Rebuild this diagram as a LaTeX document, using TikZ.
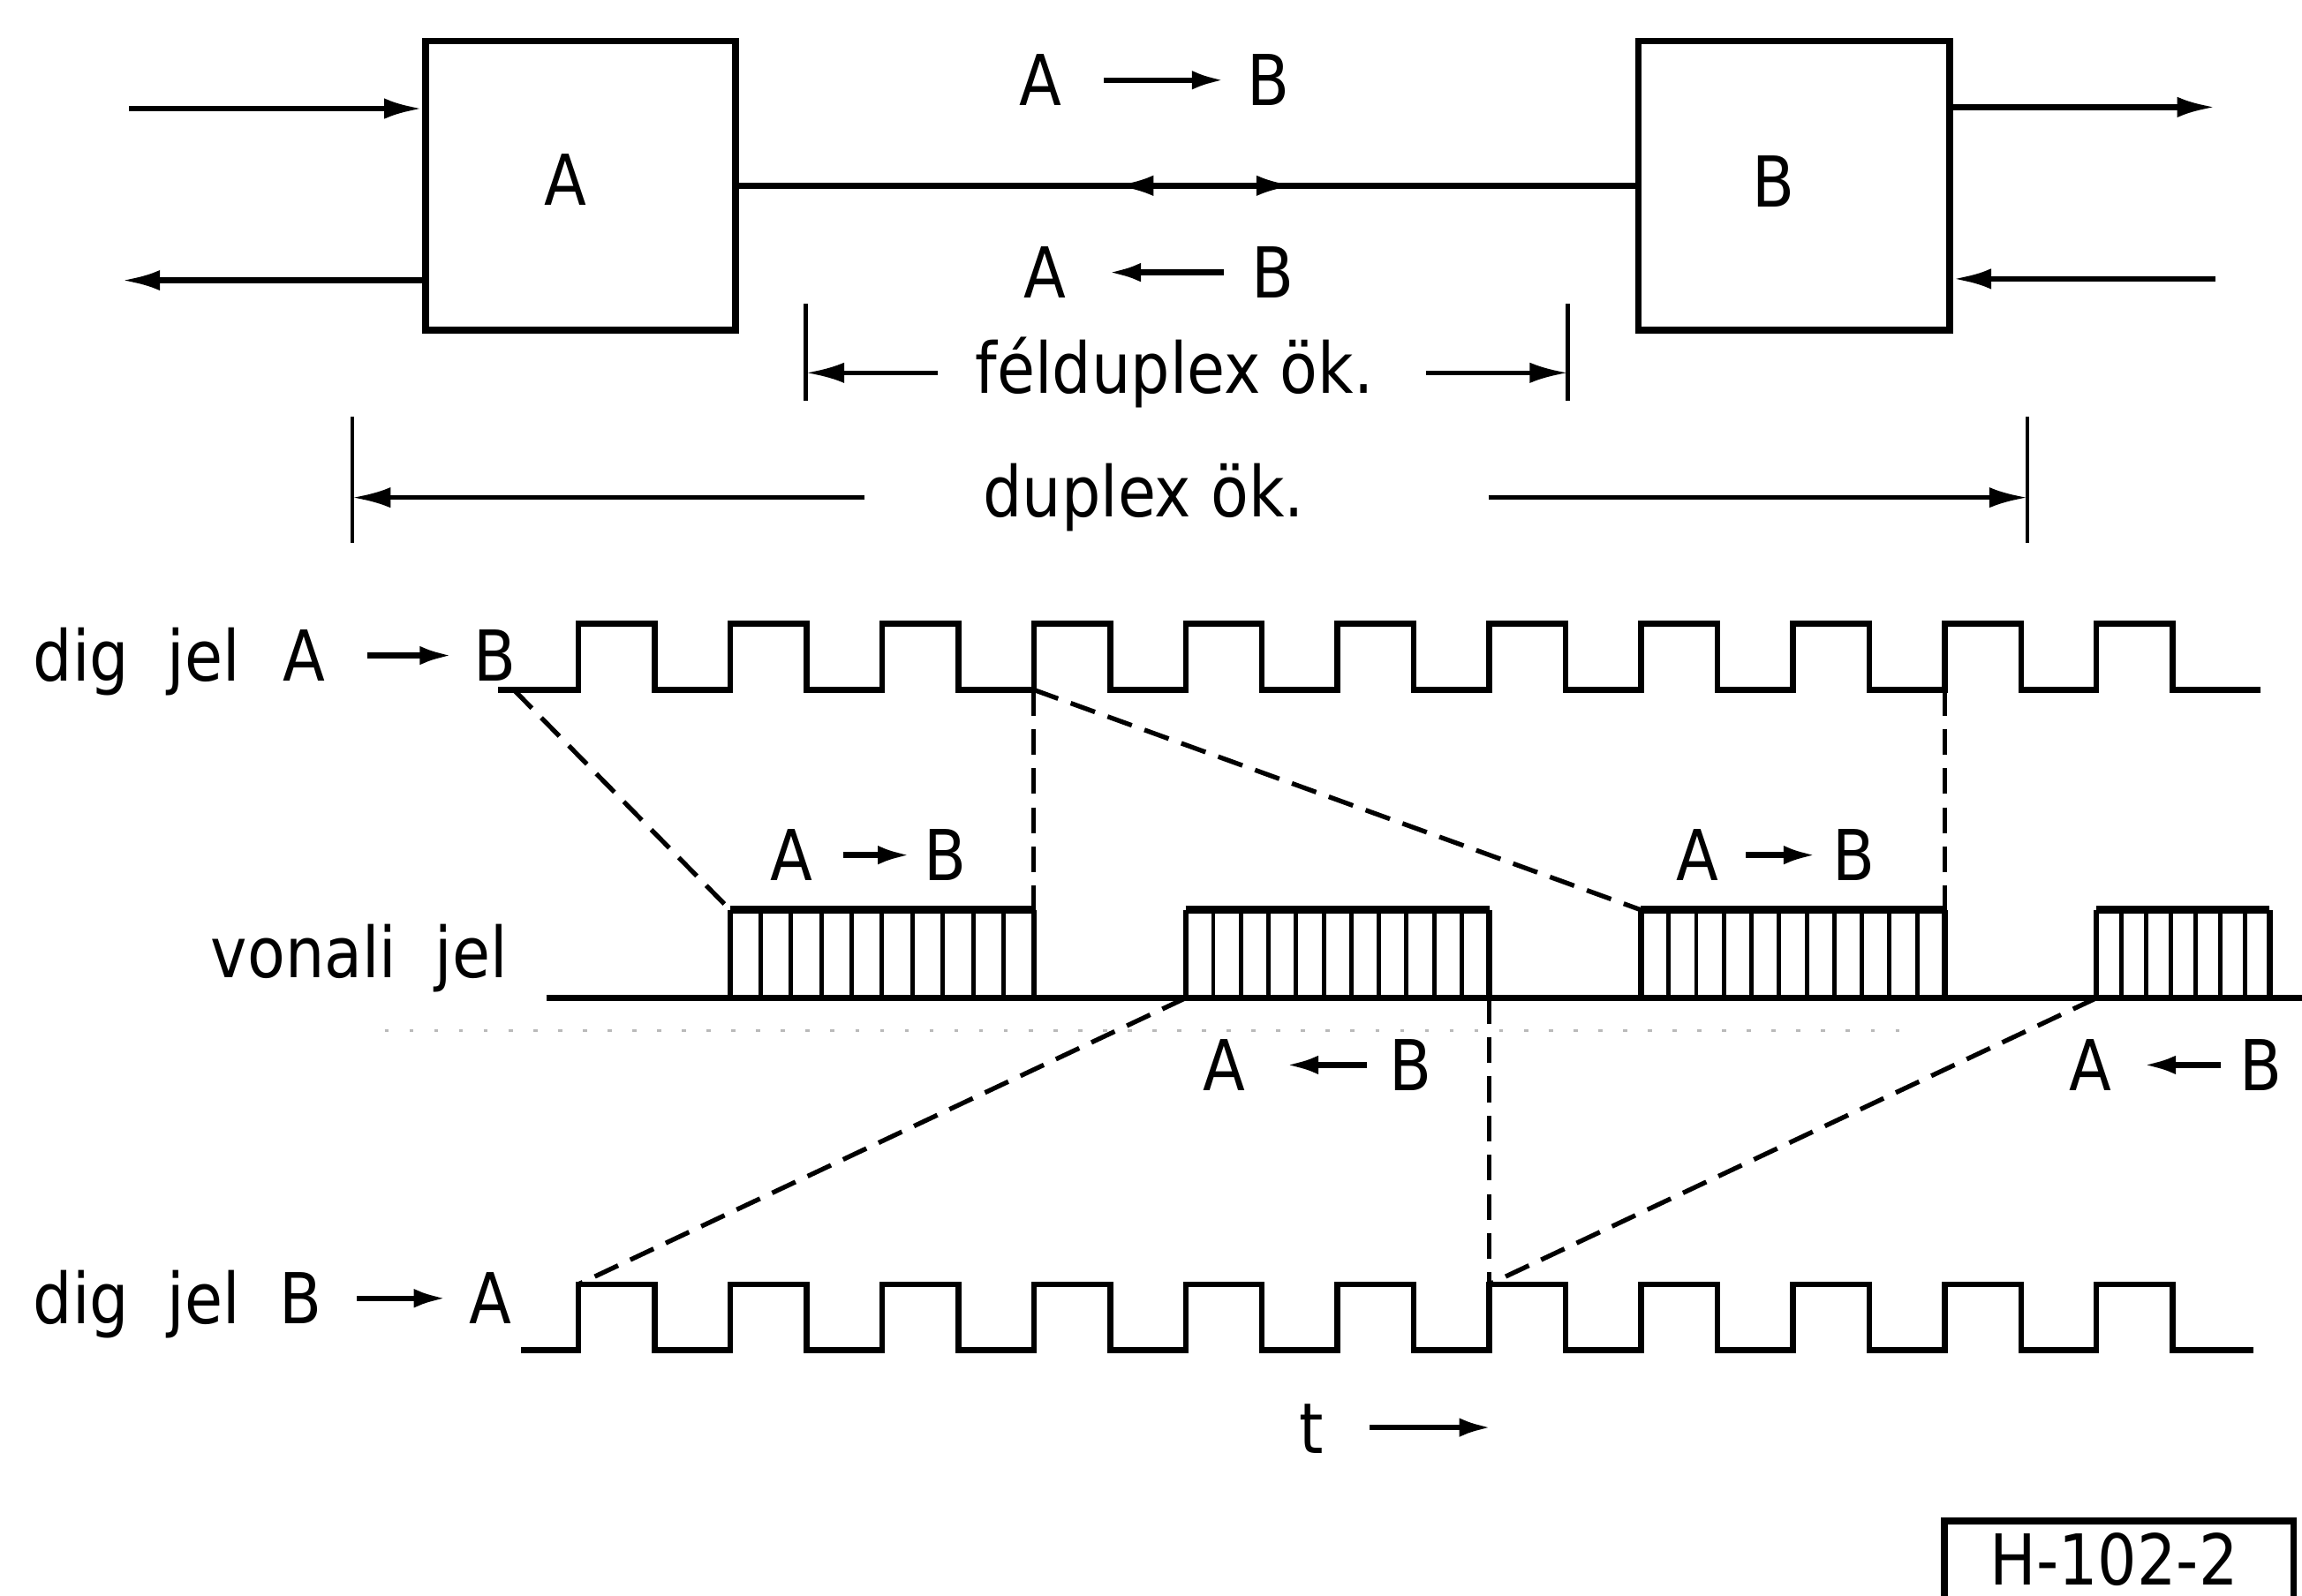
\documentclass[tikz,border=0pt]{standalone}
\usepackage{fontspec}
\setmainfont{DejaVu Sans}[FakeStretch=0.88]
\usetikzlibrary{arrows.meta,decorations.markings}
\begin{document}
\begin{tikzpicture}[x=0.1mm,y=-0.1mm,
  font=\fontsize{13.6}{16}\selectfont,
  ln/.style={line width=1.1pt},
  thn/.style={line width=0.9pt},
  blk/.style={draw, line width=1.3pt, minimum width=21.1mm, minimum height=19.7mm, inner sep=0pt},
  ch/.style={inner sep=0pt, text height=9.9pt, text depth=0pt, anchor=base},
  txt/.style={inner sep=0pt, anchor=base},
  tip/.style={-{Latex[length=2.6mm,width=1.4mm]}},
  stip/.style={-{Latex[length=2.2mm,width=1.3mm]}},
  dsh/.style={line width=0.9pt, dash pattern=on 5pt off 2.6pt},
  tickln/.style={line width=0.8pt},
  bar/.style={line width=0.85pt},
]
\useasboundingbox (0,0) rectangle (1568,1087);
\fill[white] (0,0) rectangle (1568,1087);
\clip (0,0) rectangle (1568,1087);

% ---- blocks
\node[blk] (A) at (395.5,126.5) {};
\node[blk, minimum width=21.2mm] (B) at (1222,126.5) {};
\node[ch] (Al) at (385,140) {A};
\node[ch] (Bl) at (1208,141) {B};

\coordinate (ain) at (88,74);
\coordinate (aout) at (83,191);
\coordinate (bout) at (1509,73);
\coordinate (bin) at (1509,190);
\draw[ln,tip] (ain) -- (ain -| A.west);
\draw[ln,tip] (aout -| A.west) -- (aout);
\draw[ln,tip] (bout -| B.east) -- (bout);
\draw[ln,tip] (bin) -- (bin -| B.east);

\draw[ln, postaction={decorate}, decoration={markings,
  mark=at position 0.42 with {\arrowreversed{Latex[length=2.6mm,width=1.4mm]}},
  mark=at position 0.62 with {\arrow{Latex[length=2.6mm,width=1.4mm]}}}]
  (A) -- (B);

% ---- top labels
\node[ch] (t1a) at (709,72) {A};
\node[ch] (t1b) at (864,72) {B};
\draw[ln,stip,shorten <=2.8mm,shorten >=1.5mm] (t1a) -- (t1b);
\node[ch] (t2a) at (712,203) {A};
\node[ch] (t2b) at (867,203) {B};
\draw[ln,stip,shorten <=1.8mm,shorten >=2.8mm] (t2b) -- (t2a);

% ---- dimension lines
\coordinate (fl) at (549,254);
\coordinate (fr) at (1068,254);
\draw[tickln] (fl) ++(0,-47) -- ++(0,66);
\draw[tickln] (fr) ++(0,-47) -- ++(0,66);
\node[txt] (fd) at (800,268) {félduplex ök.};
\draw[thn,tip,shorten <=2.5mm] (fd.west |- fl) -- (fl);
\draw[thn,tip,shorten <=3.5mm] (fd.east |- fr) -- (fr);

\coordinate (dl) at (240,339);
\coordinate (dr) at (1381,339);
\draw[tickln] (dl) ++(0,-55) -- ++(0,86);
\draw[tickln] (dr) ++(0,-55) -- ++(0,86);
\node[txt] (dx) at (779,352) {duplex ök.};
\draw[thn,tip,shorten <=8mm] (dx.west |- dl) -- (dl);
\draw[thn,tip,shorten <=12.5mm] (dx.east |- dr) -- (dr);

% ---- signal labels
\node[txt, anchor=base west] (dj1) at (22,464) {dig\hspace{0.55em}jel};
\node[ch] (s1a) at (207,464) {A};
\node[ch] (s1b) at (337,464) {B};
\draw[ln,stip,shorten <=2.8mm,shorten >=1.4mm] (s1a) -- (s1b);

\node[txt, anchor=base west] (vj) at (143,666) {vonali\hspace{0.55em}jel};

\node[txt, anchor=base west] (dj2) at (22,902) {dig\hspace{0.55em}jel};
\node[ch] (s2b) at (205,902) {B};
\node[ch] (s2a) at (334,902) {A};
\draw[ln,stip,shorten <=2.3mm,shorten >=1.5mm] (s2b) -- (s2a);

\node[ch] (u1a) at (539,600) {A};
\node[ch] (u1b) at (644,600) {B};
\draw[ln,stip,shorten <=2.0mm,shorten >=0.9mm] (u1a) -- (u1b);
\node[ch] (u3a) at (1156,600) {A};
\node[ch] (u3b) at (1263,600) {B};
\draw[ln,stip,shorten <=1.8mm,shorten >=1.1mm] (u3a) -- (u3b);
\node[ch] (l2a) at (834,743) {A};
\node[ch] (l2b) at (961,743) {B};
\draw[ln,stip,shorten <=1.5mm,shorten >=2.7mm] (l2b) -- (l2a);
\node[ch] (l4a) at (1424,743) {A};
\node[ch] (l4b) at (1540,743) {B};
\draw[ln,stip,shorten <=1.2mm,shorten >=2.1mm] (l4b) -- (l4a);

% ---- signals
\draw[ln] (339,470) foreach \k in {0,...,10} { -- ({394+103.4*\k},470) -- ++(0,-45) -- ++(52,0) -- ++(0,45) } -- (1540,470);
\draw[ln] (355,920) foreach \k in {0,...,10} { -- ({394+103.4*\k},920) -- ++(0,-45) -- ++(52,0) -- ++(0,45) } -- (1535,920);
\draw[ln] (372,680) -- (1568,680);
\draw[gray!55, line width=0.5pt, dash pattern=on 0.8pt off 4pt] (262,702) -- (1300,702);

\foreach \a/\b/\n in {497.4/704.2/10, 807.6/1014.4/11, 1117.8/1324.6/11, 1428/1546/7} {
  \draw[ln] (\a,680) -- (\a,620);
  \draw[ln] (\b,620) -- (\b,680);
  \draw[line width=1.5pt] (\a,620) -- (\b,620);
  \pgfmathsetmacro\st{(\b-\a)/\n}
  \pgfmathtruncatemacro\m{\n-1}
  \foreach \i in {1,...,\m} \draw[bar] ({\a+\i*\st},620) -- ++(0,60);
}

% ---- dashed connections
\coordinate (ts) at (350,470);
\coordinate (b1tl) at (497.4,620);
\coordinate (b1tr) at (704.2,620);
\coordinate (p4) at (704.2,470);
\coordinate (b3tl) at (1117.8,620);
\coordinate (b3tr) at (1324.6,620);
\coordinate (p10) at (1324.6,470);
\coordinate (b2bl) at (807.6,680);
\coordinate (b2br) at (1014.4,680);
\coordinate (q1) at (394,875);
\coordinate (q7) at (1014.4,875);
\coordinate (b4bl) at (1428,680);
\draw[dsh] (ts) -- (b1tl);
\draw[dsh] (p4) -- (b1tr);
\draw[dsh] (p4) -- (b3tl);
\draw[dsh] (p10) -- (b3tr);
\draw[dsh] (b2bl) -- (q1);
\draw[dsh] (b2br) -- (q7);
\draw[dsh] (b4bl) -- (q7);

% ---- time arrow
\node[ch] (tt) at (893,990) {t};
\draw[ln,stip] ([xshift=3.1mm]tt.east) -- ([xshift=11.4mm]tt.east);

% ---- figure id
\node[draw, line width=1.3pt, minimum width=23.8mm, minimum height=8mm, anchor=north west, inner sep=0pt] (hb) at (1322,1034) {};
\node[txt] (ht) at (1440,1080) {H-102-2};
\end{tikzpicture}
\end{document}
